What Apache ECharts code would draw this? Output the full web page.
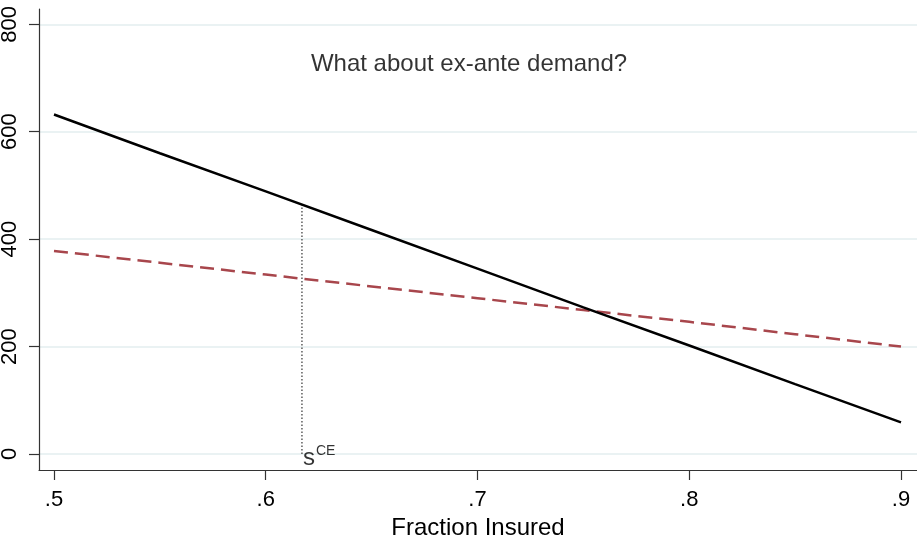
<!DOCTYPE html>
<html><head><meta charset="utf-8">
<script src="https://cdn.jsdelivr.net/npm/echarts@6/dist/echarts.min.js"></script>
<style>html,body{margin:0;padding:0;background:#fff}#c{width:917px;height:543px}</style>
</head><body><div id="c"></div>
<script>
const fraction = [0.5, 0.55, 0.6, 0.65, 0.7, 0.75, 0.8, 0.85, 0.9];
const blackLine = [632, 560, 489, 417, 345, 273, 202, 130, 59];
const redDashed = [378, 356, 334, 312, 290, 268, 246, 223, 200];
const xTicks = [0.5, 0.6, 0.7, 0.8, 0.9];
const yTicks = [0, 200, 400, 600, 800];
const sCE = 0.6171;
const sCEtop = 464;
const annotation = 'What about ex-ante demand?';
const xTitle = 'Fraction Insured';

const font = 'Liberation Sans, Arial, Helvetica, sans-serif';
const chart = echarts.init(document.getElementById('c'));
chart.setOption({
  backgroundColor: '#fff',
  animation: false,
  grid: {left: 39, right: 0, top: 9, bottom: 73, outerBoundsMode: 'none', containLabel: false},
  xAxis: {
    type: 'value', min: 0.49292, max: 0.90755,
    name: xTitle, nameLocation: 'middle', nameGap: 37,
    nameTextStyle: {fontFamily: font, fontSize: 24, color: '#000', verticalAlign: 'top'},
    axisLine: {show: true, onZero: false, lineStyle: {color: '#333', width: 1.2}},
    axisTick: {show: true, inside: false, customValues: xTicks, length: 10, lineStyle: {color: '#333', width: 1.2}},
    axisLabel: {customValues: xTicks, fontFamily: font, fontSize: 22, color: '#000', margin: 19,
      formatter: v => String(+v.toFixed(2)).replace(/^0\./, '.')},
    splitLine: {show: false}
  },
  yAxis: {
    type: 'value', min: -29.8, max: 828.5,
    axisLine: {show: true, onZero: false, lineStyle: {color: '#333', width: 1.2}},
    axisTick: {show: true, inside: false, customValues: yTicks, length: 10, lineStyle: {color: '#333', width: 1.2}},
    axisLabel: {customValues: yTicks, rotate: 90, fontFamily: font, fontSize: 22, color: '#000', margin: 18},
    splitLine: {show: false}
  },
  series: [
    {
      type: 'line', data: [], silent: true, z: 0,
      markLine: {
        silent: true, symbol: 'none', label: {show: false}, z: 0,
        lineStyle: {color: '#eaf2f3', width: 2, type: 'solid'},
        data: yTicks.map(v => ({yAxis: v}))
      }
    },
    {
      type: 'line', data: [[sCE, 0], [sCE, sCEtop]], symbol: 'none', z: 3,
      lineStyle: {color: '#333', width: 1.2, type: [1.5, 2]}
    },
    {
      type: 'line', data: fraction.map((x, i) => [x, redDashed[i]]), symbol: 'none', z: 4,
      lineStyle: {color: '#a8464c', width: 2.5, type: [14, 7]}
    },
    {
      type: 'line', data: fraction.map((x, i) => [x, blackLine[i]]), symbol: 'none', z: 5,
      lineStyle: {color: '#000', width: 2.5}
    },
    {
      type: 'scatter', symbolSize: 0, silent: true, z: 6,
      data: [[sCE, 0]],
      label: {show: true, position: 'right', distance: 0, offset: [1, 3],
        formatter: '{s|s}{sup|CE}',
        rich: {
          s: {fontFamily: font, fontSize: 24, color: '#000', verticalAlign: 'bottom', lineHeight: 26, padding: [10, 0, 0, 0]},
          sup: {fontFamily: font, fontSize: 14, color: '#000', verticalAlign: 'top', padding: [0, 0, 12, 1]}
        }
      }
    },
    {
      type: 'scatter', symbolSize: 0, silent: true, z: 6,
      data: [[0.696, 725]],
      label: {show: true, position: 'inside', formatter: annotation,
        fontFamily: font, fontSize: 24, color: '#000'}
    }
  ]
});
</script></body></html>
